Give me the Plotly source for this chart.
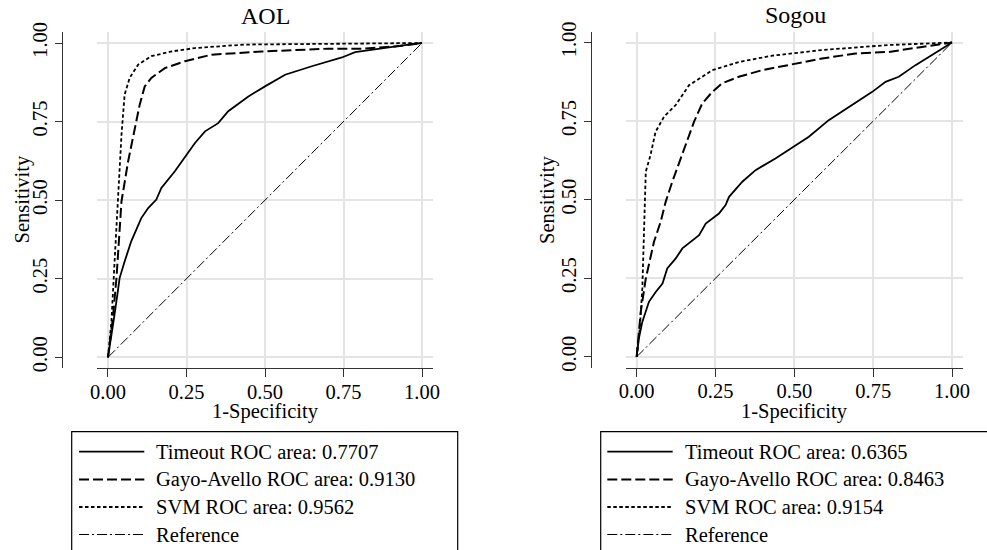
import plotly.graph_objects as go

W, H = 987, 550

# ---------------- data ----------------
panel_titles = ["AOL", "Sogou"]
legend_labels_aol = ["Timeout ROC area: 0.7707", "Gayo-Avello ROC area: 0.9130",
                     "SVM ROC area: 0.9562", "Reference"]
legend_labels_sogou = ["Timeout ROC area: 0.6365", "Gayo-Avello ROC area: 0.8463",
                       "SVM ROC area: 0.9154", "Reference"]
tick_vals = [0, 0.25, 0.5, 0.75, 1.0]
tick_text = ["0.00", "0.25", "0.50", "0.75", "1.00"]

aol_timeout_x = [0, 0.010, 0.020, 0.030, 0.037, 0.053, 0.074, 0.106, 0.128, 0.154, 0.170, 0.213,
                 0.250, 0.277, 0.309, 0.351, 0.383, 0.447, 0.500, 0.564, 0.649, 0.745, 0.787,
                 0.872, 0.957, 1.0]
aol_timeout_y = [0, 0.06, 0.13, 0.20, 0.252, 0.305, 0.369, 0.443, 0.475, 0.502, 0.539, 0.592,
                 0.645, 0.682, 0.719, 0.745, 0.783, 0.830, 0.862, 0.899, 0.926, 0.954, 0.971,
                 0.984, 0.995, 1.0]
aol_gayo_x = [0, 0.015, 0.027, 0.043, 0.064, 0.085, 0.101, 0.117, 0.138, 0.181, 0.245, 0.330,
              0.489, 0.702, 0.809, 0.915, 1.0]
aol_gayo_y = [0, 0.12, 0.252, 0.496, 0.623, 0.730, 0.804, 0.862, 0.889, 0.920, 0.942, 0.963,
              0.973, 0.982, 0.982, 0.989, 1.0]
aol_svm_x = [0, 0.011, 0.021, 0.032, 0.043, 0.053, 0.069, 0.096, 0.138, 0.202, 0.277, 0.436,
             0.702, 1.0]
aol_svm_y = [0, 0.115, 0.305, 0.517, 0.708, 0.836, 0.889, 0.931, 0.958, 0.973, 0.984, 0.995,
             0.998, 1.0]

sogou_timeout_x = [0, 0.007, 0.018, 0.039, 0.061, 0.082, 0.097, 0.124, 0.145, 0.198, 0.219,
                   0.261, 0.282, 0.293, 0.335, 0.377, 0.440, 0.504, 0.546, 0.609, 0.683, 0.747,
                   0.789, 0.831, 0.884, 0.937, 0.968, 1.0]
sogou_timeout_y = [0, 0.058, 0.111, 0.175, 0.207, 0.233, 0.281, 0.313, 0.345, 0.387, 0.424,
                   0.456, 0.483, 0.509, 0.557, 0.594, 0.631, 0.673, 0.700, 0.753, 0.801, 0.843,
                   0.875, 0.891, 0.928, 0.960, 0.981, 1.0]
sogou_gayo_x = [0, 0.013, 0.029, 0.055, 0.076, 0.092, 0.113, 0.139, 0.161, 0.182, 0.208, 0.240,
                0.271, 0.324, 0.398, 0.504, 0.588, 0.694, 0.799, 0.905, 1.0]
sogou_gayo_y = [0, 0.143, 0.249, 0.366, 0.429, 0.493, 0.557, 0.631, 0.695, 0.748, 0.806, 0.843,
                0.870, 0.891, 0.912, 0.933, 0.949, 0.965, 0.970, 0.986, 1.0]
sogou_svm_x = [0, 0.010, 0.018, 0.023, 0.029, 0.044, 0.060, 0.087, 0.124, 0.166, 0.197, 0.240,
               0.324, 0.430, 0.588, 0.799, 1.0]
sogou_svm_y = [0, 0.090, 0.217, 0.408, 0.589, 0.642, 0.716, 0.764, 0.801, 0.864, 0.885, 0.912,
               0.938, 0.958, 0.976, 0.992, 1.0]

reference_x = [0, 1]
reference_y = [0, 1]

# ---------------- styles ----------------
FONT = "Liberation Serif, Times New Roman, serif"
FS = 20.5
styles = [
    dict(width=1.8, dash="solid"),
    dict(width=2.0, dash="10px,4px"),
    dict(width=1.8, dash="3.5px,2.5px"),
    dict(width=1.0, dash="10px,3px,2px,3px"),
]


def px_x(p):
    return p / W


def px_y(p):
    return 1 - p / H


fig = go.Figure()

panels = [
    (["x", "y"], [(aol_timeout_x, aol_timeout_y), (aol_gayo_x, aol_gayo_y),
                  (aol_svm_x, aol_svm_y), (reference_x, reference_y)], legend_labels_aol),
    (["x2", "y2"], [(sogou_timeout_x, sogou_timeout_y), (sogou_gayo_x, sogou_gayo_y),
                    (sogou_svm_x, sogou_svm_y), (reference_x, reference_y)], legend_labels_sogou),
]

for (xa, ya), series, labels in panels:
    for (sx, sy), st, lab in zip(series, styles, labels):
        fig.add_trace(go.Scatter(x=sx, y=sy, mode="lines", name=lab, xaxis=xa, yaxis=ya,
                                 showlegend=False, hoverinfo="skip",
                                 line=dict(color="black", width=st["width"], dash=st["dash"])))

grid_col = "#e4e4e4"
axis_col = "#333333"

# plot-area geometry (pixels)
geo = [
    dict(x0=97, x1=433, y0=32, y1=368, yline=62),
    dict(x0=625.6, x1=963.1, y0=31.5, y1=367.5, yline=591),
]

common_x = dict(range=[-0.035, 1.035], tickvals=tick_vals, ticktext=tick_text,
                showgrid=True, gridcolor=grid_col, gridwidth=1.5, zeroline=False,
                showline=True, linecolor=axis_col, linewidth=1.3, ticks="outside",
                ticklen=8, tickwidth=1.3, tickcolor=axis_col, automargin=False,
                ticklabelstandoff=-3,
                tickfont=dict(family=FONT, size=FS, color="black"), fixedrange=True)
common_y = dict(range=[-0.034, 1.035], tickvals=tick_vals, ticktext=tick_text,
                showgrid=True, gridcolor=grid_col, gridwidth=1.5, zeroline=False,
                showline=True, linecolor=axis_col, linewidth=1.3, ticks="outside",
                ticklen=7, tickwidth=1.3, tickcolor=axis_col, tickangle=-90, automargin=False,
                tickfont=dict(family=FONT, size=FS, color="black"), fixedrange=True)

fig.update_layout(
    xaxis=dict(domain=[px_x(geo[0]["x0"]), px_x(geo[0]["x1"])], anchor="y", **common_x),
    yaxis=dict(domain=[px_y(geo[0]["y1"]), px_y(geo[0]["y0"])], anchor="free",
               position=px_x(geo[0]["yline"]), **common_y),
    xaxis2=dict(domain=[px_x(geo[1]["x0"]), px_x(geo[1]["x1"])], anchor="y2", **common_x),
    yaxis2=dict(domain=[px_y(geo[1]["y1"]), px_y(geo[1]["y0"])], anchor="free",
                position=px_x(geo[1]["yline"]), **common_y),
)

annotations = []
shapes = []

# titles & axis titles
title_pos = [(265, 16), (795, 15)]
ytitle_x = [21.5, 547]
xtitle_pos = [(265, 411), (794, 411)]
for i in range(2):
    annotations.append(dict(text=panel_titles[i], x=px_x(title_pos[i][0]), y=px_y(title_pos[i][1]),
                            xref="paper", yref="paper", showarrow=False, xanchor="center",
                            yanchor="middle", font=dict(family=FONT, size=24, color="black")))
    annotations.append(dict(text="Sensitivity", x=px_x(ytitle_x[i]), y=px_y(200),
                            xref="paper", yref="paper", showarrow=False, xanchor="center",
                            yanchor="middle", textangle=-90,
                            font=dict(family=FONT, size=FS, color="black")))
    annotations.append(dict(text="1-Specificity", x=px_x(xtitle_pos[i][0]), y=px_y(xtitle_pos[i][1]),
                            xref="paper", yref="paper", showarrow=False, xanchor="center",
                            yanchor="middle", font=dict(family=FONT, size=FS, color="black")))

# legends (drawn boxes)
leg_geo = [
    dict(bx0=71.7, bx1=457.7, lx0=79, lx1=144.3, tx=154.3, labels=legend_labels_aol),
    dict(bx0=600.7, bx1=1000, lx0=607.3, lx1=672.7, tx=683.3, labels=legend_labels_sogou),
]
row_y = [451.7, 479.5, 507, 534.5]
for lg in leg_geo:
    shapes.append(dict(type="rect", xref="paper", yref="paper",
                       x0=px_x(lg["bx0"]), x1=px_x(lg["bx1"]), y0=px_y(431.7), y1=px_y(600),
                       line=dict(color="black", width=1.2), fillcolor="rgba(0,0,0,0)"))
    for st, lab, ry in zip(styles, lg["labels"], row_y):
        shapes.append(dict(type="line", xref="paper", yref="paper",
                           x0=px_x(lg["lx0"]), x1=px_x(lg["lx1"]), y0=px_y(ry), y1=px_y(ry),
                           line=dict(color="black", width=st["width"], dash=st["dash"])))
        annotations.append(dict(text=lab, x=px_x(lg["tx"]), y=px_y(ry), xref="paper", yref="paper",
                                showarrow=False, xanchor="left", yanchor="middle",
                                font=dict(family=FONT, size=FS, color="black")))

fig.update_layout(
    width=W, height=H, autosize=False,
    margin=dict(l=0, r=0, t=0, b=0, autoexpand=False),
    paper_bgcolor="white", plot_bgcolor="white",
    showlegend=False,
    annotations=annotations, shapes=shapes,
    font=dict(family=FONT, size=FS, color="black"),
)

fig.write_html("out.html", config={"displayModeBar": False},
               post_script="document.body.style.margin='0';document.body.style.overflow='hidden';")
